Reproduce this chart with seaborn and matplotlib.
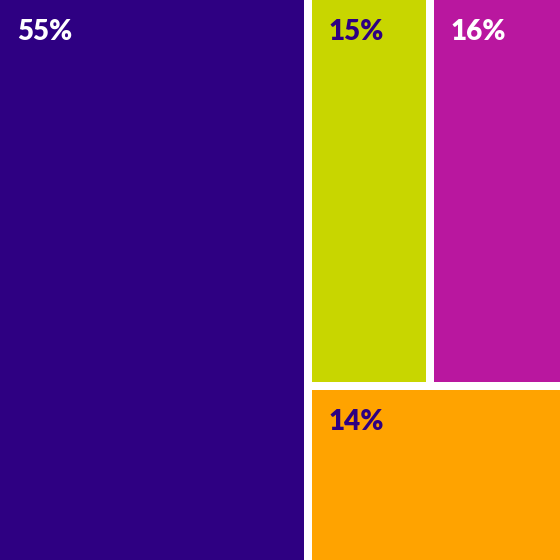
import matplotlib.pyplot as plt
import seaborn as sns
from matplotlib.patches import Rectangle

sns.set_theme(style='white')
plt.rcParams['font.family'] = ['Lato', 'DejaVu Sans']

labels = ['55%', '15%', '16%', '14%']
values = [55, 15, 16, 14]
colors = ['#2e0082', '#c8d600', '#b9179f', '#ffa300']
text_colors = ['white', '#2e0082', 'white', '#2e0082']

W = H = 560.0
gap = 4.0
total = sum(values)

# slice: left block full height, right column split into top row and bottom
left_w = W * values[0] / total
right_w = W - left_w
rest = sum(values[1:])
bottom_h = H * values[3] / rest
top_h = H - bottom_h
w1 = right_w * values[1] / (values[1] + values[2])
rects = [
    (0, 0, left_w, H),
    (left_w, 0, w1, top_h),
    (left_w + w1, 0, right_w - w1, top_h),
    (left_w, top_h, right_w, bottom_h),
]

fig = plt.figure(figsize=(5.6, 5.6), dpi=100)
ax = fig.add_axes([0, 0, 1, 1])
ax.set_xlim(0, W)
ax.set_ylim(H, 0)
ax.axis('off')

for (x, y, w, h), lab, c, tc in zip(rects, labels, colors, text_colors):
    x0 = x + (gap if x > 0 else 0)
    y0 = y + (gap if y > 0 else 0)
    x1 = x + w - (gap if x + w < W - 1 else 0)
    y1 = y + h - (gap if y + h < H - 1 else 0)
    ax.add_patch(Rectangle((x0, y0), x1 - x0, y1 - y0, color=c, lw=0))
    ax.text(x0 + 17, y0 + 32, lab, color=tc, fontsize=20, fontweight='heavy',
            va='center', ha='left')

fig.savefig('out.png', dpi=100)
